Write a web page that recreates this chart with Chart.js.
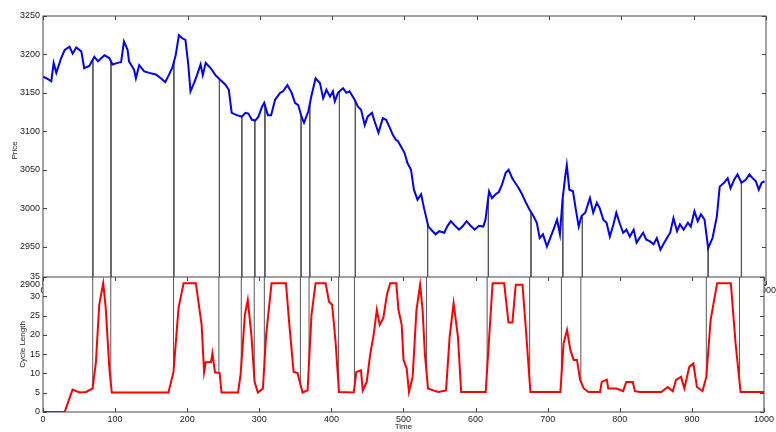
<!DOCTYPE html>
<html>
<head>
<meta charset="utf-8">
<script src="https://cdn.jsdelivr.net/npm/chart.js@4.4.1/dist/chart.umd.min.js"></script>
<style>
  html, body { margin: 0; padding: 0; background: #fff; }
  #wrap { position: relative; width: 776px; height: 432px; }
  #wrap canvas { position: absolute; left: 0; top: 0; }
</style>
</head>
<body>
<div id="wrap">
  <canvas id="priceChart" width="776" height="432"></canvas>
  <canvas id="cycleChart" width="776" height="432"></canvas>
</div>
<script>
// price series (top panel)
const priceTime = [0, 4.6, 11.5, 14.7, 18.4, 25, 30, 36.7, 41, 46, 53, 57, 64, 71, 76, 85, 92, 96, 103, 108, 112, 117, 119, 126, 128.5, 133, 140, 147, 156, 163, 169, 174, 179, 183.5, 188, 192.6, 197, 201, 204, 209, 213, 218, 221, 225, 232, 238.5, 245, 252, 257, 261, 268, 275, 280, 284, 289, 293.5, 298, 303, 306, 311, 315.5, 321, 328, 332, 338, 344, 348.5, 353, 357.6, 361, 367, 371, 377, 383, 387.5, 392, 397, 401, 403.6, 408, 415, 419.5, 424, 431, 435.6, 440, 445, 449, 455, 458.6, 464, 470, 474.6, 479, 484, 488, 491, 500, 504, 509, 513, 518, 523, 527, 533, 539, 543, 548, 555, 559, 564, 571, 575.5, 580, 586, 591.5, 597, 603, 609, 612, 617, 621, 626, 630.5, 635, 640, 644, 649, 653, 658, 662.6, 667, 673, 678.7, 683, 687, 691.5, 697, 701.5, 706, 711, 715, 718.6, 722, 724.5, 728, 733, 737, 741, 745, 750, 756.5, 761, 766, 770, 775, 779.5, 784, 789, 793, 798, 802.5, 807, 811.6, 817, 821, 825, 830, 834.5, 839, 844.6, 849, 854, 858, 863, 867.5, 872, 877, 881, 886, 892, 896, 901, 905.6, 910, 915, 920, 926, 932, 936, 942, 947, 951, 956, 960.6, 966, 972, 977, 981.5, 986, 990, 994, 998];
const priceVal = [3171, 3169, 3165, 3189, 3176, 3195, 3206, 3210, 3201, 3209, 3204, 3182, 3185, 3197, 3191, 3199, 3195, 3187, 3189, 3190, 3217, 3206, 3191, 3180, 3169, 3186, 3178, 3176, 3174, 3169, 3164, 3173, 3183, 3199, 3225, 3221, 3219, 3186, 3152, 3163, 3173, 3187, 3173, 3189, 3182, 3173, 3167, 3161, 3154, 3124, 3121, 3119, 3124, 3123, 3115, 3114, 3119, 3132, 3137, 3121, 3121, 3141, 3150, 3152, 3160, 3150, 3137, 3134, 3119, 3111, 3126, 3145, 3169, 3163, 3143, 3154, 3145, 3152, 3139, 3150, 3156, 3150, 3152, 3141, 3132, 3128, 3108, 3119, 3124, 3113, 3098, 3117, 3115, 3106, 3095, 3089, 3087, 3072, 3059, 3050, 3024, 3011, 3018, 3000, 2976, 2970, 2966, 2970, 2968, 2976, 2983, 2976, 2972, 2976, 2983, 2977, 2972, 2977, 2976, 2985, 3022, 3013, 3018, 3021, 3031, 3046, 3050, 3039, 3033, 3026, 3018, 3009, 2998, 2989, 2981, 2961, 2966, 2950, 2961, 2972, 2985, 2966, 3011, 3039, 3056, 3024, 3022, 2998, 2976, 2990, 2994, 3013, 2994, 3007, 3000, 2985, 2981, 2963, 2979, 2994, 2979, 2968, 2972, 2963, 2972, 2955, 2961, 2968, 2959, 2957, 2953, 2961, 2946, 2953, 2961, 2968, 2987, 2970, 2979, 2972, 2981, 2976, 2996, 2983, 2992, 2985, 2948, 2961, 2989, 3028, 3033, 3039, 3026, 3037, 3044, 3033, 3037, 3044, 3039, 3035, 3024, 3033, 3035];

// cycle length series (bottom panel)
const cycleTime = [0, 30, 41, 50.5, 59.7, 68.8, 73.4, 78, 83.5, 87, 92, 95.4, 174, 181, 188, 195, 212, 220, 223.4, 225.6, 233, 235, 238.5, 245, 247.6, 270.5, 274, 280, 284, 289, 293.5, 298, 305, 309.5, 317, 337, 341.7, 347.6, 353, 360, 367, 372.4, 378, 392, 396.7, 401, 405.8, 410.5, 431, 434.6, 441, 443.5, 449, 454, 458.6, 463, 467, 472, 477, 481.5, 490, 493, 497.5, 500, 504.4, 507.6, 512.7, 518, 523, 526.5, 529.6, 534, 541, 548, 559, 564, 569.5, 575.5, 580, 614, 623.6, 639.6, 645.6, 651, 655.7, 665, 669.5, 676, 717.6, 722, 726.8, 731.4, 736, 740.6, 745, 750, 756.5, 772.6, 775, 782, 784, 795.6, 804.6, 809, 818, 821, 828, 857.5, 866.6, 873.5, 878, 885, 889.6, 896.4, 902, 907, 914.7, 920, 926, 935, 954, 960.6, 967.5, 1000];
const cycleVal = [0, 0, 5.8, 5.05, 5.2, 6.1, 13, 27.8, 33.4, 27, 11.3, 5.05, 5.05, 10.4, 27, 33.4, 33.4, 22.6, 10.4, 12.9, 12.9, 15.2, 10.3, 10.1, 5.05, 5.05, 9.6, 25.2, 29.1, 20, 7.8, 5.05, 6.1, 20, 33.4, 33.4, 22.6, 10.4, 10.1, 5.05, 5.6, 25.2, 33.4, 33.4, 28.6, 27.8, 18.2, 5.2, 5.05, 10.4, 10.8, 5.6, 7.8, 15.2, 20, 26.5, 22.6, 24.3, 30.4, 33.4, 33.4, 26.5, 22.6, 13.5, 11.3, 5.2, 9.1, 26.5, 33, 26.5, 15.2, 6.1, 5.6, 5.2, 5.6, 19.5, 28.2, 19.5, 5.2, 5.2, 33.4, 33.4, 23.2, 23.2, 33, 33, 22.1, 5.2, 5.2, 17.8, 21.3, 16.1, 13.5, 13.5, 8.3, 6.1, 5.2, 5.2, 7.8, 8.4, 6.1, 6.1, 5.4, 7.8, 7.8, 5.4, 5.2, 5.2, 6.5, 5.4, 8.3, 9.1, 6.1, 11.7, 12.6, 6.5, 5.4, 9.1, 23.9, 33.4, 33.4, 17.8, 5.2, 5.2];

// vertical marker lines joining the two panels
const markTimes = [69, 94, 181, 244, 275, 293, 307, 357, 369, 410, 432, 532, 616, 675, 719, 746, 920, 966];
const markPrice = [3194, 3191, 3190, 3168, 3119, 3114, 3134, 3120, 3135, 3152, 3140, 2980, 3015, 2995, 3012, 2989, 2948, 3033];
const markCycle = [6.3, 7, 10.4, 10.1, 12, 8.5, 12, 7, 12.8, 6.5, 6.5, 10, 11, 8, 9, 7.8, 9.1, 7.7];

const timeTicks = [0, 100, 200, 300, 400, 500, 600, 700, 800, 900, 1000];
const priceTicks = [2900, 2950, 3000, 3050, 3100, 3150, 3200, 3250];
const cycleTicks = [0, 5, 10, 15, 20, 25, 30, 35];

const tickFont = { family: 'Liberation Sans, Arial, sans-serif', size: 9 };
const titleFont = { family: 'Liberation Sans, Arial, sans-serif', size: 8 };
const textColor = '#222';
const plain = v => String(v);

// white box + matlab style frame with inward ticks
const frameTicks = {
  id: 'frameTicks',
  beforeDraw(chart, args, opts) {
    if (!opts.fill) return;
    const a = chart.chartArea;
    chart.ctx.save();
    chart.ctx.fillStyle = '#fff';
    chart.ctx.fillRect(a.left, a.top, a.width, a.height);
    chart.ctx.restore();
  },
  afterDraw(chart) {
    const { ctx, chartArea: a, scales: { x, y } } = chart;
    ctx.save();
    ctx.strokeStyle = '#444';
    ctx.lineWidth = 1;
    ctx.strokeRect(a.left, a.top, a.width, a.height);
    ctx.beginPath();
    x.ticks.forEach(t => {
      const px = Math.round(x.getPixelForValue(t.value)) + 0.5;
      ctx.moveTo(px, a.top); ctx.lineTo(px, a.top + 4);
      ctx.moveTo(px, a.bottom); ctx.lineTo(px, a.bottom - 4);
    });
    y.ticks.forEach(t => {
      const py = Math.round(y.getPixelForValue(t.value)) + 0.5;
      ctx.moveTo(a.left, py); ctx.lineTo(a.left + 4, py);
      ctx.moveTo(a.right, py); ctx.lineTo(a.right - 4, py);
    });
    ctx.stroke();
    ctx.restore();
  }
};

const markLines = (vals, end) => {
  const pts = [];
  markTimes.forEach((t, i) => {
    pts.push({ x: t, y: vals[i] }, { x: t, y: end }, { x: t, y: null });
  });
  return pts;
};

const xScale = (showLabels, height) => ({
  type: 'linear',
  min: 0,
  max: 1000,
  afterBuildTicks: s => { s.ticks = timeTicks.map(v => ({ value: v })); },
  ticks: { display: true, padding: showLabels ? 2 : 0, font: tickFont, color: textColor, maxRotation: 0, autoSkip: false, callback: plain },
  grid: { display: false, drawTicks: false },
  border: { display: false },
  afterFit: s => { s.height = height; }
});

new Chart(document.getElementById('priceChart'), {
  type: 'line',
  data: {
    datasets: [
      {
        data: priceTime.map((t, i) => ({ x: t, y: priceVal[i] })),
        borderColor: '#0000ff',
        borderWidth: 2,
        pointRadius: 0,
        order: 1
      },
      {
        data: markLines(markPrice, 2900),
        borderColor: '#555',
        borderWidth: 1,
        pointRadius: 0,
        spanGaps: false,
        order: 2
      }
    ]
  },
  options: {
    responsive: false,
    animation: false,
    devicePixelRatio: 1,
    layout: { padding: { top: 16, right: 7, left: 0, bottom: 0 } },
    plugins: { legend: { display: false }, tooltip: { enabled: false }, frameTicks: { fill: false } },
    scales: {
      x: xScale(false, 147),
      y: {
        min: 2900,
        max: 3250,
        afterBuildTicks: s => { s.ticks = priceTicks.map(v => ({ value: v })); },
        ticks: { padding: 3, font: tickFont, color: textColor, callback: plain },
        grid: { display: false, drawTicks: false },
        border: { display: false },
        title: { display: true, text: 'Price', font: titleFont, color: textColor, padding: { top: 10, bottom: 0 } },
        afterFit: s => { s.width = 43; }
      }
    }
  },
  plugins: [frameTicks]
});

new Chart(document.getElementById('cycleChart'), {
  type: 'line',
  data: {
    datasets: [
      {
        data: cycleTime.map((t, i) => ({ x: t, y: cycleVal[i] })),
        borderColor: '#ff0000',
        borderWidth: 2,
        pointRadius: 0,
        order: 1
      },
      {
        data: markLines(markCycle, 35),
        borderColor: '#555',
        borderWidth: 1,
        pointRadius: 0,
        spanGaps: false,
        order: 2
      }
    ]
  },
  options: {
    responsive: false,
    animation: false,
    devicePixelRatio: 1,
    layout: { padding: { top: 277, right: 7, left: 0, bottom: 0 } },
    plugins: { legend: { display: false }, tooltip: { enabled: false }, frameTicks: { fill: true } },
    scales: {
      x: Object.assign(xScale(true, 20), {
        title: { display: true, text: 'Time', font: titleFont, color: textColor, padding: { top: 0, bottom: 0 } }
      }),
      y: {
        min: 0,
        max: 35,
        afterBuildTicks: s => { s.ticks = cycleTicks.map(v => ({ value: v })); },
        ticks: { padding: 3, font: tickFont, color: textColor, callback: plain },
        grid: { display: false, drawTicks: false },
        border: { display: false },
        title: { display: true, text: 'Cycle Length', font: titleFont, color: textColor, padding: { top: 18, bottom: 0 } },
        afterFit: s => { s.width = 43; }
      }
    }
  },
  plugins: [frameTicks]
});
</script>
</body>
</html>
